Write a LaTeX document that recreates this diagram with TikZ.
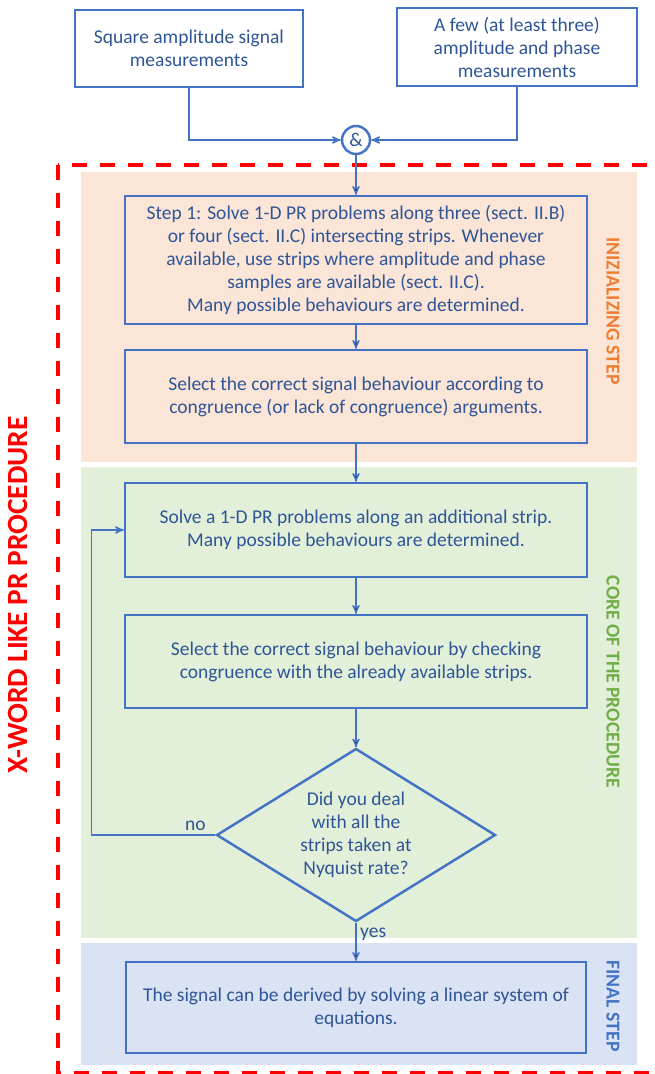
\documentclass[tikz,border=0pt]{standalone}
\usepackage{fontspec}
\setmainfont{Carlito}
\usetikzlibrary{positioning,shapes,arrows}
\definecolor{boxblue}{RGB}{68,114,196}
\definecolor{textblue}{RGB}{47,85,151}
\definecolor{orangefill}{RGB}{251,229,214}
\definecolor{orangetext}{RGB}{237,125,49}
\definecolor{greenfill}{RGB}{226,240,217}
\definecolor{greentext}{RGB}{112,173,71}
\definecolor{bluefill}{RGB}{218,227,243}
\definecolor{bluetext}{RGB}{68,114,196}
\definecolor{dashred}{RGB}{255,0,0}

\begin{document}
\begin{tikzpicture}[x=0.02cm,y=-0.02cm,>=stealth',
  main node/.style={rectangle,draw=boxblue,line width=1.4pt,text=textblue,align=center,inner sep=0pt,font=\fontsize{11.1}{13.1}\selectfont},
  band node/.style={rotate=-90,font=\fontsize{11.2}{13}\selectfont\bfseries},
  label node/.style={text=textblue,font=\fontsize{11.1}{13}\selectfont,inner sep=2pt},
  link/.style={->,draw=boxblue,line width=0.8pt}]
  \useasboundingbox (0,0) rectangle (654,1074);
  % coloured bands
  \fill[orangefill] (81,172) rectangle (637,462);
  \fill[greenfill] (81,467) rectangle (637,938);
  \fill[bluefill] (81,943) rectangle (637,1065);
  \draw[dashred, line width=2.3pt, dash pattern=on 0.3cm off 0.26cm] (58,165) rectangle (690,1073);
  \node[text=dashred, rotate=90, font=\fontsize{16.7}{19}\selectfont\bfseries] (0) at (18,595) {X-WORD LIKE PR PROCEDURE};
  \node[band node, text=orangetext] (a) at (613,311) {INIZIALIZING STEP};
  \node[band node, text=greentext] (b) at (613,682) {CORE OF THE PROCEDURE};
  \node[band node, text=bluetext] (c) at (613,1006) {FINAL STEP};
  % boxes
  \node[main node, minimum width=4.56cm, minimum height=1.54cm] (1) at (189,48.5) {Square amplitude signal\\measurements};
  \node[main node, minimum width=4.8cm, minimum height=1.56cm] (2) at (517,47) {A few (at least three)\\amplitude and phase\\measurements};
  \node[main node, circle, minimum size=0.56cm] (3) at (356,140) {\&};
  \node[main node, minimum width=9.24cm, minimum height=2.56cm] (4) at (356,260) {Step 1: Solve 1-D PR problems along three (sect. II.B)\\or four (sect. II.C) intersecting strips. Whenever\\available, use strips where amplitude and phase\\samples are available (sect. II.C).\\Many possible behaviours are determined.};
  \node[main node, minimum width=9.24cm, minimum height=1.86cm] (5) at (356,396.5) {Select the correct signal behaviour according to\\congruence (or lack of congruence) arguments.};
  \node[main node, minimum width=9.24cm, minimum height=1.88cm] (6) at (356,530) {Solve a 1-D PR problems along an additional strip.\\Many possible behaviours are determined.};
  \node[main node, minimum width=9.24cm, minimum height=1.86cm] (7) at (356,661.5) {Select the correct signal behaviour by checking\\congruence with the already available strips.};
  \node[main node, diamond, aspect=1.6, minimum width=5.58cm, minimum height=3.46cm] (9) at (356,835) {Did you deal\\with all the\\strips taken at\\Nyquist rate?};
  \node[main node, minimum width=9.2cm, minimum height=1.82cm] (8) at (356,1007.5) {The signal can be derived by solving a linear system of\\equations.};
  % connectors
  \draw[link] (1) |- (3);
  \draw[link] (2) |- (3);
  \path[link] (3) edge (4) (4) edge (5) (5) edge (6) (6) edge (7) (7) edge (9);
  \path[link] (9) edge node[label node, right, pos=0.3] {yes} (8);
  \draw[link] (9.west) -- node[label node, above, pos=0.16] {no} +(-124,0) |- (6.west);
\end{tikzpicture}
\end{document}
